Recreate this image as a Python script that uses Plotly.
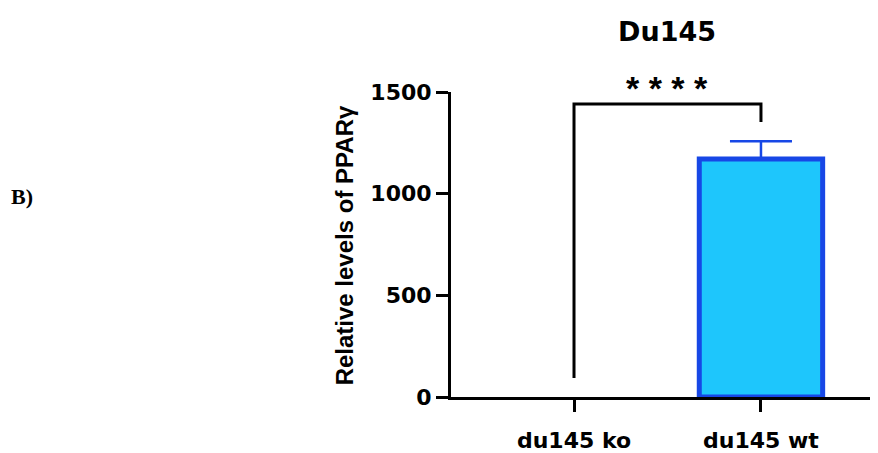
import plotly.graph_objects as go

categories = ["du145 ko", "du145 wt"]
values = [0, 1170]
errors_up = [0, 88]
y_ticks = [0, 500, 1000, 1500]
title_text = "Du145"
y_title = "Relative levels of PPARγ"
sig_label = "* * * *"
panel_label = "B)"

BLUE_EDGE = "#1747e6"
BLUE_FILL = "#1ec6fc"
FONT = "DejaVu Sans"
FONT2 = "Liberation Sans"

fig = go.Figure()
# ko bar (no visible outline / error)
fig.add_trace(go.Bar(
    x=[categories[0]], y=[values[0]], width=0.66,
    marker=dict(color=BLUE_FILL, line=dict(color=BLUE_EDGE, width=0)),
    showlegend=False,
))
# wt bar
fig.add_trace(go.Bar(
    x=[categories[1]], y=[values[1]], width=0.66,
    marker=dict(color=BLUE_FILL, line=dict(color=BLUE_EDGE, width=5)),
    error_y=dict(type="data", array=[errors_up[1]], arrayminus=[0], symmetric=False,
                 color=BLUE_EDGE, thickness=2.5, width=31),
    showlegend=False,
))

# significance bracket
fig.add_trace(go.Scatter(
    x=[categories[0], categories[0], categories[1], categories[1]],
    y=[93, 1441, 1441, 1353],
    mode="lines", line=dict(color="black", width=3),
    showlegend=False, cliponaxis=False, hoverinfo="skip",
))

fig.update_layout(
    width=870, height=445,
    margin=dict(l=443, r=0, t=84, b=56),
    plot_bgcolor="white", paper_bgcolor="white",
    barmode="overlay",
    xaxis=dict(
        range=[-0.658, 1.626], showline=True, linecolor="black", linewidth=3,
        ticks="outside", ticklen=12, tickwidth=3, tickcolor="black",
        tickfont=dict(family=FONT, size=22, color="black", weight="bold"),
        ticklabelstandoff=10, showgrid=False, zeroline=False, automargin=False,
        categoryorder="array", categoryarray=categories,
    ),
    yaxis=dict(
        range=[0, 1500], tickvals=y_ticks, showline=True, linecolor="black", linewidth=3,
        ticks="outside", ticklen=12, tickwidth=3, tickcolor="black",
        tickfont=dict(family=FONT, size=22, color="black", weight="bold"),
        showgrid=False, zeroline=False, automargin=False,
    ),
    annotations=[
        dict(text=title_text, x=0.5, xref="x", y=1.197, yref="paper", showarrow=False,
             font=dict(family=FONT, size=27, color="black", weight="bold"),
             xanchor="center", yanchor="middle"),
        dict(text=sig_label, x=0.5, xref="x", y=1.012, yref="paper", showarrow=False,
             font=dict(family=FONT2, size=34, color="black", weight="bold"),
             xanchor="center", yanchor="middle"),
        dict(text=y_title, x=-0.25, xref="paper", y=0.498, yref="paper", showarrow=False,
             textangle=-90, font=dict(family=FONT2, size=24, color="black", weight="bold"),
             xanchor="center", yanchor="middle"),
        dict(text=panel_label, x=-1.005, xref="paper", y=0.656, yref="paper", showarrow=False,
             font=dict(family="Liberation Serif", size=22, color="black", weight="bold"),
             xanchor="center", yanchor="middle"),
    ],
)

fig.write_html("out.html")
